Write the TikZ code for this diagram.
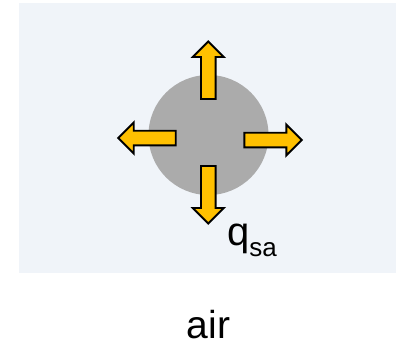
\documentclass[tikz,border=0pt]{standalone}
\usepackage{fontspec}
\setmainfont{Liberation Sans}
\definecolor{airbg}{HTML}{F0F4F9}
\definecolor{spheregray}{HTML}{ABABAB}
\definecolor{heatgold}{HTML}{FFC000}
\begin{document}
\begin{tikzpicture}[x=1pt,y=-1pt,
  heatflow/.style={fill=heatgold,draw=black,line width=1.9pt,line join=miter},
  pics/fluxarrow/.style={code={
    \path[heatflow] (0,-7.3) -- (42,-7.3) -- (42,-15.5) -- (57.5,0) -- (42,15.5)
      -- (42,7.3) -- (0,7.3) -- cycle;
  }}]
  \useasboundingbox (0,0) rectangle (396,341);
  % air region
  \fill[airbg] (19,3) rectangle (396,273);
  % sphere
  \node[circle,fill=spheregray,minimum size=120pt,inner sep=0pt] (sphere) at (208.5,135) {};
  % radial heat flux arrows
  \pic[shift={(208.3,99)},rotate=90] (up) {fluxarrow};
  \pic[shift={(175.7,138)},rotate=180] (left) {fluxarrow};
  \pic[shift={(244.3,140)},rotate=0] (right) {fluxarrow};
  \pic[shift={(208.3,166)},rotate=270] (down) {fluxarrow};
  % labels
  \node[anchor=base west,inner sep=0pt,font=\fontsize{40}{40}\selectfont] (qsa) at (227,245)
    {q\raisebox{-11.5pt}{\fontsize{26}{26}\selectfont sa}};
  \node[anchor=base,inner sep=0pt,font=\fontsize{39}{39}\selectfont] (air) at (208.5,338) {air};
\end{tikzpicture}
\end{document}
